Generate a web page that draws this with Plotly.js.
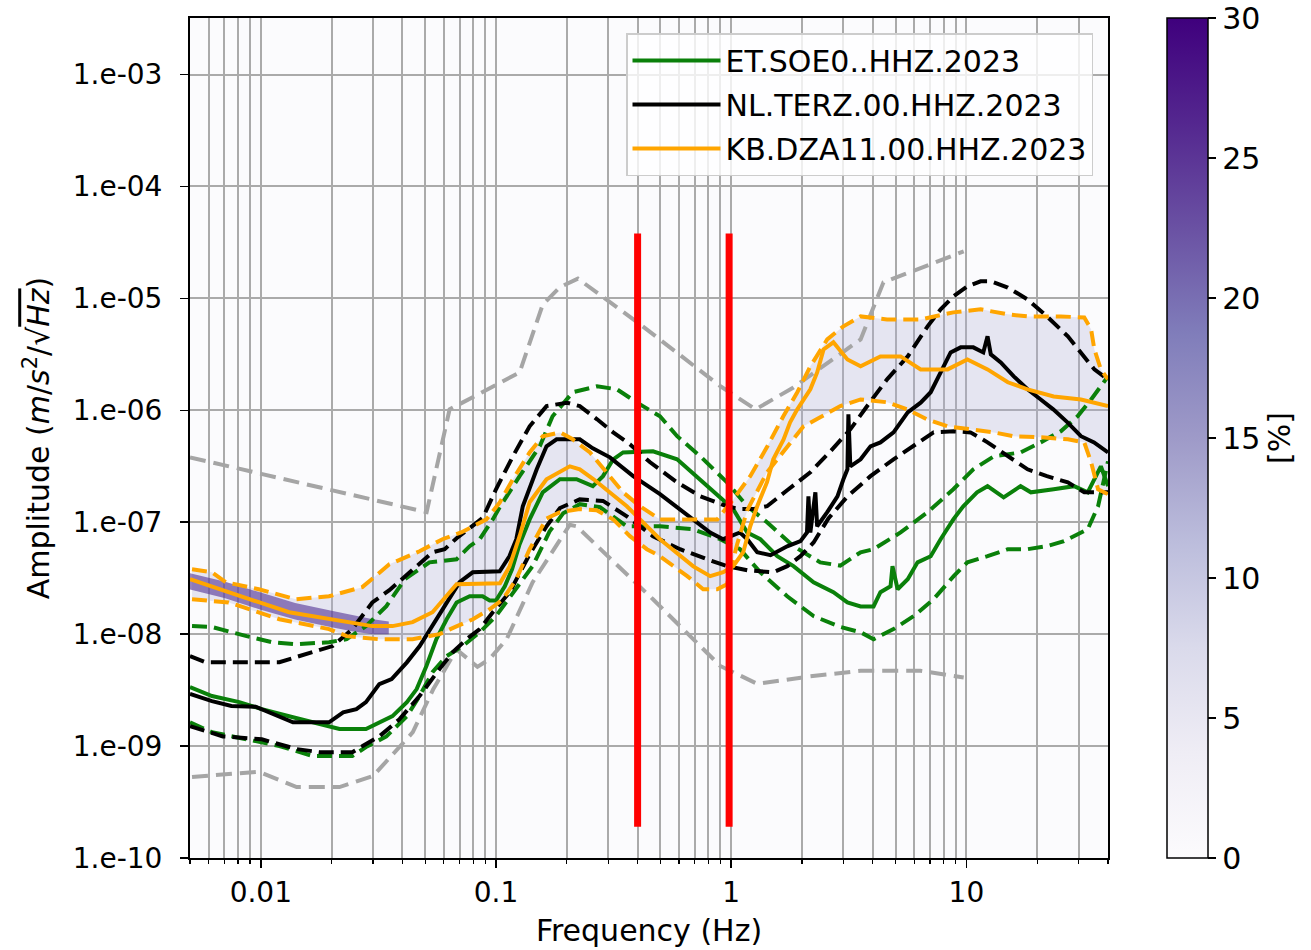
<!DOCTYPE html>
<html>
<head>
<meta charset="utf-8">
<script src="https://cdn.plot.ly/plotly-3.0.1.min.js"></script>
<style>html,body{margin:0;padding:0;background:#fff;}#chart{width:1311px;height:950px;}</style>
</head>
<body>
<div id="chart"></div>
<script>
// ---------------- data (frequency in Hz, amplitude in m/s^2/sqrt(Hz)) ----------------
const X_TICK_VALS = [0.01, 0.1, 1, 10];
const X_TICK_TEXT = ['0.01', '0.1', '1', '10'];
const X_MINOR_VALS = [0.005,0.006,0.007,0.008,0.009,0.02,0.03,0.04,0.05,0.06,0.07,0.08,0.09,0.2,0.3,0.4,0.5,0.6,0.7,0.8,0.9,2,3,4,5,6,7,8,9,20,30,40];
const Y_TICK_VALS = [1e-10,1e-9,1e-8,1e-7,1e-6,1e-5,1e-4,1e-3];
const Y_TICK_TEXT = ['1.e-10','1.e-09','1.e-08','1.e-07','1.e-06','1.e-05','1.e-04','1.e-03'];
const CBAR_TICKS = [0,5,10,15,20,25,30];

const STATION_NAMES = ['ET.SOE0..HHZ.2023','NL.TERZ.00.HHZ.2023','KB.DZA11.00.HHZ.2023'];

// Peterson high / low noise models
const NHNM_F = [0.005,0.0507,0.0635,0.126,0.158,0.187,0.223,0.422,0.90,1.27,1.84,3.55,4.44,9.74];
const NHNM_A = [3.8e-7,1.23e-7,1.02e-6,2.18e-6,8.8e-6,1.26e-5,1.5e-5,5.6e-6,1.64e-6,1.02e-6,1.6e-6,4.3e-6,1.39e-5,2.63e-5];
const NLNM_F = [0.0051,0.0098,0.0142,0.0216,0.030,0.0443,0.054,0.068,0.0834,0.094,0.111,0.143,0.206,0.22,0.465,0.898,1.29,2.17,3.55,6.38,9.74];
const NLNM_A = [5.3e-10,5.9e-10,4.3e-10,4.3e-10,5.4e-10,1.33e-9,3.2e-9,7.3e-9,5.1e-9,6.0e-9,9.0e-9,2.9e-8,9.5e-8,9.2e-8,2.05e-8,5.2e-9,3.6e-9,4.2e-9,4.7e-9,4.7e-9,4.1e-9];

// ET.SOE0 (green)
const GREEN_MED_F = [0.005,0.0062,0.0081,0.0101,0.0137,0.0195,0.0216,0.028,0.0319,0.0363,0.0418,0.046,0.0506,0.0558,0.0617,0.068,0.0773,0.0877,0.094,0.1,0.109,0.117,0.126,0.139,0.158,0.187,0.22,0.258,0.285,0.315,0.347,0.465,0.589,0.738,0.924,1.02,1.17,1.33,1.57,1.84,2.24,2.72,3.12,3.55,4.03,4.31,4.76,4.85,5.1,5.63,6.2,7.05,7.77,8.8,9.7,11.1,12.3,14.4,17,18.8,23.5,28.7,32.8,37.3,40];
const GREEN_MED_A = [3.37e-9,2.8e-9,2.47e-9,2.14e-9,1.81e-9,1.51e-9,1.42e-9,1.42e-9,1.63e-9,1.85e-9,2.47e-9,3.23e-9,5.19e-9,9.02e-9,1.36e-8,1.92e-8,2.18e-8,2.18e-8,2.0e-8,2.0e-8,2.68e-8,3.8e-8,6.36e-8,1.06e-7,1.85e-7,2.42e-7,2.42e-7,2.1e-7,2.58e-7,3.65e-7,4.2e-7,4.3e-7,3.65e-7,2.42e-7,1.6e-7,1.31e-7,8.1e-8,7.05e-8,4.97e-8,4.05e-8,2.91e-8,2.37e-8,1.92e-8,1.77e-8,1.77e-8,2.37e-8,2.68e-8,4.05e-8,2.52e-8,3.1e-8,4.38e-8,4.97e-8,7.05e-8,1.06e-7,1.39e-7,1.85e-7,2.1e-7,1.67e-7,2.1e-7,1.85e-7,1.97e-7,2.1e-7,1.85e-7,3.16e-7,2.1e-7];
const GREEN_HI_F = [0.0051,0.0062,0.0087,0.0112,0.0141,0.0195,0.0232,0.028,0.0342,0.041,0.0521,0.068,0.0773,0.0853,0.0969,0.1037,0.126,0.1535,0.174,0.212,0.269,0.327,0.398,0.498,0.589,0.738,0.96,1.17,1.42,1.84,2.39,2.91,3.55,4.03,5.25,6.84,8.8,10.7,13.1,17,20.7,25.2,29.7,33.9,40];
const GREEN_HI_A = [1.18e-8,1.16e-8,9.6e-9,8.47e-9,8.13e-9,8.47e-9,9.02e-9,1.18e-8,1.78e-8,3.1e-8,4.38e-8,4.67e-8,6.11e-8,7.05e-8,1.06e-7,1.36e-7,2.58e-7,4.77e-7,8.85e-7,1.45e-6,1.64e-6,1.54e-6,1.17e-6,8.85e-7,5.87e-7,3.89e-7,2.27e-7,1.39e-7,1.0e-7,6.11e-8,4.38e-8,4.1e-8,5.39e-8,5.74e-8,8.1e-8,1.23e-7,1.97e-7,2.97e-7,3.89e-7,4.2e-7,5.17e-7,6.5e-7,8.85e-7,1.25e-6,2.01e-6];
const GREEN_LO_F = [0.005,0.0062,0.0087,0.012,0.0166,0.0245,0.028,0.0342,0.0418,0.0473,0.0537,0.0617,0.0722,0.0853,0.1,0.118,0.143,0.169,0.193,0.227,0.277,0.36,0.498,0.689,0.898,1.09,1.33,1.73,2.24,2.91,3.55,4.03,4.9,5.97,7.25,8.83,10.1,12.3,15,18.2,22,26,32.8,36.3,38.6,40];
const GREEN_LO_A = [1.63e-9,1.33e-9,1.15e-9,1.0e-9,8.16e-10,8.16e-10,9.8e-10,1.22e-9,1.85e-9,2.8e-9,4.57e-9,6.37e-9,7.83e-9,1.04e-8,1.45e-8,2.37e-8,4.05e-8,8.28e-8,1.2e-7,1.45e-7,1.36e-7,9.2e-8,9.2e-8,8.66e-8,7.05e-8,5.74e-8,3.57e-8,2.18e-8,1.45e-8,1.16e-8,1.04e-8,9.02e-9,1.11e-8,1.45e-8,2.05e-8,3.3e-8,4.38e-8,4.97e-8,5.74e-8,5.74e-8,6.11e-8,6.77e-8,8.66e-8,1.39e-7,2.58e-7,3.5e-7];

// NL.TERZ (black)
const BLACK_MED_F = [0.005,0.0062,0.0075,0.0095,0.0137,0.0195,0.0224,0.0255,0.028,0.0319,0.036,0.0418,0.0473,0.0537,0.0617,0.070,0.0796,0.1037,0.114,0.122,0.13,0.149,0.164,0.181,0.227,0.258,0.305,0.383,0.498,0.589,0.689,0.814,0.924,1.09,1.17,1.29,1.47,1.73,1.97,2.1,2.13,2.17,2.28,2.32,2.56,2.83,3.0,3.12,3.15,3.21,3.55,3.91,4.31,4.9,5.63,6.39,7.05,7.77,8.57,9.46,10.7,11.8,12.3,12.7,14.0,15.9,18.2,20.7,23.4,26.9,30.7,34.9,40];
const BLACK_MED_A = [2.92e-9,2.52e-9,2.28e-9,2.25e-9,1.63e-9,1.63e-9,2.0e-9,2.14e-9,2.47e-9,3.58e-9,3.97e-9,5.6e-9,7.8e-9,1.18e-8,1.92e-8,2.91e-8,3.57e-8,3.65e-8,4.97e-8,7.05e-8,1.39e-7,2.97e-7,4.77e-7,5.51e-7,5.51e-7,4.57e-7,3.8e-7,2.58e-7,1.78e-7,1.36e-7,1.04e-7,8.1e-8,7.05e-8,8.1e-8,7.05e-8,5.39e-8,5.08e-8,6.1e-8,6.77e-8,8.1e-8,1.7e-7,8.1e-8,1.85e-7,9.2e-8,1.23e-7,1.7e-7,2.42e-7,2.97e-7,9.2e-7,3.16e-7,3.65e-7,4.77e-7,5.17e-7,6.35e-7,9.58e-7,1.17e-6,1.45e-6,2.18e-6,3.29e-6,3.65e-6,3.65e-6,3.29e-6,4.58e-6,3.16e-6,2.68e-6,2.01e-6,1.54e-6,1.25e-6,1.02e-6,7.8e-7,5.87e-7,5.17e-7,4.2e-7];
const BLACK_HI_F = [0.005,0.0058,0.012,0.0166,0.0202,0.0245,0.0298,0.0352,0.0437,0.0537,0.0605,0.068,0.081,0.088,0.1,0.118,0.139,0.164,0.2,0.227,0.269,0.315,0.371,0.452,0.589,0.738,0.96,1.09,1.24,1.42,1.73,2.17,2.64,3.21,3.91,4.6,5.63,6.84,7.77,8.8,10.1,11.5,12.7,15,18.2,22,27,30.7,35,40];
const BLACK_HI_A = [6.37e-9,5.62e-9,5.62e-9,6.9e-9,7.83e-9,1.11e-8,1.92e-8,2.47e-8,3.72e-8,5.39e-8,5.74e-8,7.2e-8,9.57e-8,1.1e-7,1.97e-7,3.89e-7,7.2e-7,1.09e-6,1.17e-6,1.09e-6,8.31e-7,6.35e-7,4.97e-7,3.43e-7,2.27e-7,1.71e-7,1.39e-7,1.31e-7,1.31e-7,1.39e-7,1.93e-7,2.79e-7,4.3e-7,6.76e-7,1.2e-6,1.89e-6,3.03e-6,5.63e-6,7.98e-6,1.04e-5,1.28e-5,1.42e-5,1.42e-5,1.25e-5,9.8e-6,6.9e-6,4.58e-6,3.29e-6,2.32e-6,1.89e-6];
const BLACK_LO_F = [0.005,0.0069,0.0101,0.0142,0.0177,0.0245,0.0271,0.0319,0.0389,0.0473,0.0575,0.0655,0.075,0.0853,0.0969,0.1143,0.139,0.164,0.187,0.227,0.285,0.36,0.465,0.606,0.79,0.96,1.17,1.51,1.73,1.97,2.24,2.59,3.12,3.91,4.9,5.97,7.25,8.83,10.4,12.3,15,18.2,22,27,31.7,40];
const BLACK_LO_A = [1.51e-9,1.22e-9,1.15e-9,9.4e-10,8.83e-10,8.83e-10,1.0e-9,1.22e-9,1.74e-9,2.8e-9,4.87e-9,6.9e-9,9.02e-9,1.11e-8,1.57e-8,2.37e-8,5.18e-8,9.2e-8,1.34e-7,1.6e-7,1.55e-7,1.13e-7,7.5e-8,5.74e-8,4.67e-8,4.05e-8,3.72e-8,3.57e-8,4.05e-8,4.97e-8,6.6e-8,1.08e-7,1.7e-7,2.58e-7,3.65e-7,4.77e-7,6.35e-7,6.5e-7,6.35e-7,5.17e-7,3.89e-7,2.97e-7,2.58e-7,2.27e-7,1.85e-7,1.85e-7];

// KB.DZA11 (orange)
const ORANGE_MED_F = [0.005,0.00665,0.0098,0.0132,0.0196,0.0298,0.0363,0.0442,0.0537,0.0617,0.068,0.104,0.114,0.126,0.139,0.164,0.206,0.227,0.26,0.36,0.498,0.69,0.814,0.925,1.02,1.125,1.205,1.29,1.42,1.51,1.67,1.78,1.91,2.17,2.32,2.47,2.72,3.12,3.55,4.31,5.25,6.39,8.32,10.1,12.3,15,18.2,23.5,30.7,40];
const ORANGE_MED_A = [3.1e-8,2.52e-8,1.93e-8,1.57e-8,1.36e-8,1.18e-8,1.18e-8,1.28e-8,1.57e-8,2.18e-8,2.79e-8,2.85e-8,4.0e-8,7.5e-8,1.51e-7,2.42e-7,3.16e-7,2.97e-7,2.42e-7,1.39e-7,7.05e-8,4.03e-8,3.3e-8,3.58e-8,4.05e-8,5.4e-8,9.2e-8,1.39e-7,2.28e-7,3.65e-7,5.5e-7,7.8e-7,1.02e-6,1.54e-6,2.18e-6,3.5e-6,4.05e-6,2.85e-6,2.47e-6,3.03e-6,3.03e-6,2.32e-6,2.32e-6,2.85e-6,2.32e-6,1.78e-6,1.54e-6,1.33e-6,1.25e-6,1.09e-6];
const ORANGE_HI_F = [0.0051,0.0062,0.0071,0.0098,0.0141,0.0195,0.027,0.0352,0.0473,0.0592,0.0711,0.091,0.1037,0.118,0.139,0.158,0.187,0.212,0.251,0.296,0.347,0.409,0.498,0.689,0.872,1.02,1.205,1.425,1.666,1.91,2.17,2.56,3.0,3.55,4.6,6.39,8.8,11.5,15,18.3,25.2,31.7,33.9,35,37.3,40];
const ORANGE_HI_A = [3.8e-8,3.57e-8,2.91e-8,2.52e-8,2.05e-8,2.18e-8,2.63e-8,4.21e-8,5.5e-8,7.05e-8,8.1e-8,1.06e-7,1.5e-7,2.42e-7,4.2e-7,5.87e-7,6.35e-7,5.51e-7,4.2e-7,2.79e-7,1.85e-7,1.39e-7,1.06e-7,1.06e-7,1.06e-7,1.6e-7,2.58e-7,4.77e-7,8.85e-7,1.45e-6,2.47e-6,4.3e-6,5.63e-6,6.9e-6,6.49e-6,6.49e-6,7.5e-6,7.98e-6,7.2e-6,6.9e-6,6.9e-6,6.75e-6,5.29e-6,3.5e-6,2.32e-6,1.89e-6];
const ORANGE_LO_F = [0.0051,0.0073,0.012,0.0195,0.0232,0.0319,0.0442,0.0575,0.0683,0.0798,0.094,0.107,0.122,0.139,0.164,0.187,0.227,0.268,0.315,0.371,0.438,0.498,0.65,0.76,0.872,0.96,1.06,1.17,1.42,1.73,2.03,2.39,2.91,3.55,4.6,5.6,6.8,8.3,10.7,13.1,15.9,20.7,27,31.7,33.9,36.3,40];
const ORANGE_LO_A = [2.05e-8,1.92e-8,1.36e-8,1.11e-8,9.6e-9,9.0e-9,9.0e-9,1.0e-8,1.18e-8,1.36e-8,1.67e-8,2.05e-8,3.1e-8,5.74e-8,1.08e-7,1.23e-7,1.31e-7,1.28e-7,1.06e-7,7.5e-8,5.74e-8,4.97e-8,3.3e-8,2.52e-8,2.52e-8,2.79e-8,6.36e-8,1.28e-7,2.79e-7,4.77e-7,7.2e-7,8.66e-7,1.09e-6,1.25e-6,1.18e-6,1.02e-6,8.31e-7,7.2e-7,6.76e-7,6.35e-7,5.85e-7,5.74e-7,5.51e-7,5.17e-7,3.43e-7,1.97e-7,1.78e-7];

// densest part of the probability density (dark band at long periods)
const PDF_CORE_F  = [0.005,0.007,0.01,0.014,0.02,0.025,0.03,0.035];
const PDF_CORE_HI = [3.5e-8,2.95e-8,2.35e-8,1.9e-8,1.62e-8,1.47e-8,1.36e-8,1.3e-8];
const PDF_CORE_LO = [2.5e-8,2.1e-8,1.65e-8,1.35e-8,1.15e-8,1.05e-8,1.0e-8,1.0e-8];

// marked frequency band (red vertical lines)
const RED_F = [0.40, 0.98];
const RED_Y = [3.8e-5, 1.9e-10];

// ---------------- styles ----------------
const FONT = 'DejaVu Sans, Liberation Sans, sans-serif';
const C_GREEN = '#0a800a', C_BLACK = '#000000', C_ORANGE = '#FFA500', C_GRAY = '#a5a5a5';
const LW = 4;
const DASH = '15px,7px';
const PURPLES = [[0,'#fcfbfd'],[0.125,'#efedf5'],[0.25,'#dadaeb'],[0.375,'#bcbddc'],[0.5,'#9e9ac8'],[0.625,'#807dba'],[0.75,'#6a51a3'],[0.875,'#54278f'],[1,'#3f007d']];

const traces = [];
// light PDF envelope
traces.push({
  x: ORANGE_HI_F.concat(ORANGE_LO_F.slice().reverse()),
  y: ORANGE_HI_A.concat(ORANGE_LO_A.slice().reverse()),
  mode: 'lines', fill: 'toself', fillcolor: 'rgba(180,180,215,0.30)',
  line: {width: 0}, showlegend: false, hoverinfo: 'skip'
});
// dark PDF core
traces.push({
  x: PDF_CORE_F.concat(PDF_CORE_F.slice().reverse()),
  y: PDF_CORE_HI.concat(PDF_CORE_LO.slice().reverse()),
  mode: 'lines', fill: 'toself', fillcolor: 'rgba(85,55,150,0.62)',
  line: {width: 0}, showlegend: false, hoverinfo: 'skip'
});
// colorbar carrier (invisible markers)
traces.push({
  x: PDF_CORE_F, y: PDF_CORE_LO, mode: 'markers', showlegend: false, hoverinfo: 'skip',
  marker: {
    size: 0, opacity: 0, color: PDF_CORE_F.map(() => 0), cmin: 0, cmax: 30,
    colorscale: PURPLES, showscale: true,
    colorbar: {
      x: (1167 - 190) / 918, xanchor: 'left', xpad: 0, y: 0.5, yanchor: 'middle', ypad: 0,
      len: 1, lenmode: 'fraction', thickness: 41, thicknessmode: 'pixels',
      outlinewidth: 1.5, outlinecolor: '#000',
      tickmode: 'array', tickvals: CBAR_TICKS, ticktext: CBAR_TICKS.map(String),
      ticks: 'outside', ticklen: 8, tickwidth: 1.5, tickcolor: '#000',
      tickfont: {family: FONT, size: 30, color: '#000'},
      title: {text: '[%]', side: 'right', font: {family: FONT, size: 30, color: '#000'}}
    }
  }
});

function line(xs, ys, color, dash, name, legend, width) {
  return {
    x: xs, y: ys, mode: 'lines', name: name || '',
    line: {color: color, width: width || LW, dash: dash || 'solid'},
    showlegend: !!legend, legendgroup: name || undefined, hoverinfo: 'skip'
  };
}
// noise models
traces.push(line(NHNM_F, NHNM_A, C_GRAY, '16px,8px', '', false, 4));
traces.push(line(NLNM_F, NLNM_A, C_GRAY, '16px,8px', '', false, 4));
// stations
traces.push(line(GREEN_HI_F, GREEN_HI_A, C_GREEN, DASH));
traces.push(line(GREEN_LO_F, GREEN_LO_A, C_GREEN, DASH));
traces.push(line(GREEN_MED_F, GREEN_MED_A, C_GREEN, 'solid', STATION_NAMES[0], true));
traces.push(line(BLACK_HI_F, BLACK_HI_A, C_BLACK, DASH));
traces.push(line(BLACK_LO_F, BLACK_LO_A, C_BLACK, DASH));
traces.push(line(BLACK_MED_F, BLACK_MED_A, C_BLACK, 'solid', STATION_NAMES[1], true));
traces.push(line(ORANGE_HI_F, ORANGE_HI_A, C_ORANGE, DASH));
traces.push(line(ORANGE_LO_F, ORANGE_LO_A, C_ORANGE, DASH));
traces.push(line(ORANGE_MED_F, ORANGE_MED_A, C_ORANGE, 'solid', STATION_NAMES[2], true));
// red markers
RED_F.forEach(f => {
  traces.push({x: [f, f], y: RED_Y, mode: 'lines', line: {color: '#ff0000', width: 7},
    showlegend: false, hoverinfo: 'skip'});
});

const layout = {
  width: 1311, height: 950,
  margin: {l: 190, r: 203, t: 18, b: 92, autoexpand: false},
  paper_bgcolor: '#ffffff', plot_bgcolor: '#fbfbfd',
  font: {family: FONT, size: 28, color: '#000'},
  showlegend: true,
  legend: {
    x: (1093 - 190) / 918, xanchor: 'right', y: (858 - 33) / 840, yanchor: 'top',
    bgcolor: 'rgba(255,255,255,0.8)', bordercolor: '#cccccc', borderwidth: 1.5,
    font: {family: FONT, size: 30, color: '#000'},
    traceorder: 'grouped', tracegroupgap: 2, itemwidth: 88
  },
  xaxis: {
    type: 'log', range: [Math.log10(0.005), Math.log10(40)],
    tickmode: 'array', tickvals: X_TICK_VALS, ticktext: X_TICK_TEXT,
    ticks: 'outside', ticklen: 8, tickwidth: 1.5, tickcolor: '#000',
    tickfont: {family: FONT, size: 28, color: '#000'},
    showgrid: true, gridcolor: '#aaaaaa', gridwidth: 2,
    minor: {tickmode: 'array', tickvals: X_MINOR_VALS, ticks: 'outside', ticklen: 4, tickwidth: 1.2, tickcolor: '#000',
            showgrid: true, gridcolor: '#aaaaaa', gridwidth: 2},
    showline: true, linecolor: '#000', linewidth: 2, mirror: true, zeroline: false,
    title: {text: 'Frequency (Hz)', font: {family: FONT, size: 30, color: '#000'}, standoff: 12}
  },
  yaxis: {
    type: 'log', range: [-10, Math.log10(3.2e-3)],
    tickmode: 'array', tickvals: Y_TICK_VALS, ticktext: Y_TICK_TEXT,
    ticks: 'outside', ticklen: 8, tickwidth: 1.5, tickcolor: '#000', ticklabelstandoff: 12,
    tickfont: {family: FONT, size: 28, color: '#000'},
    showgrid: true, gridcolor: '#aaaaaa', gridwidth: 2,
    showline: true, linecolor: '#000', linewidth: 2, mirror: true, zeroline: false,
    title: {text: 'Amplitude (<i>m</i>/<i>s</i><sup>2</sup>/√<span style="text-decoration:overline"><i>Hz</i></span>)',
            font: {family: FONT, size: 30, color: '#000'}, standoff: 14}
  },
  hovermode: false
};

Plotly.newPlot('chart', traces, layout, {displayModeBar: false, staticPlot: true});
</script>
</body>
</html>
